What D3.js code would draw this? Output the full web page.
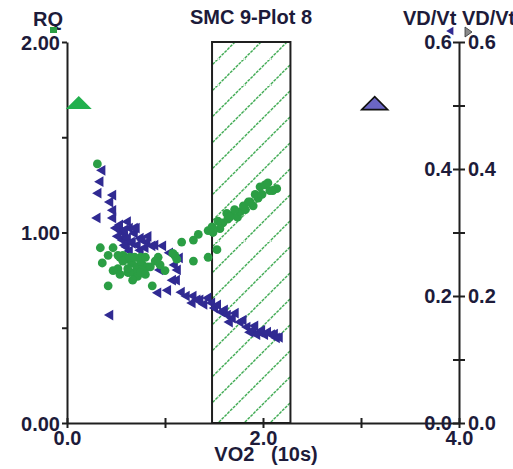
<!DOCTYPE html>
<html>
<head>
<meta charset="utf-8">
<script src="https://cdn.jsdelivr.net/npm/d3@7"></script>
<style>
    body { margin: 0; background: #fff; }
    svg { display: block; }
    text { font-family: "Liberation Sans", Arial, sans-serif; font-weight: bold; fill: #1d1b3a; }
</style>
</head>
<body>
<div id="chart"></div>
<script>
// VO2 (10s) vs RQ (green dots) and VD/Vt (blue triangles)
const rqVO2 = [0.31, 0.34, 0.47, 0.36, 0.42, 0.57, 0.61, 0.66, 0.71, 0.77, 0.82, 0.52, 0.62, 0.69, 0.72, 0.85, 0.75, 0.54, 0.93, 0.95,
    0.87, 1.10, 1.12, 1.08, 1.17, 1.29, 1.29, 1.34, 1.44, 1.48, 1.49, 1.53, 1.44, 1.59, 1.63, 1.68, 1.74, 1.77, 1.82, 1.87,
    1.90, 1.95, 1.97, 2.02, 2.07, 2.14, 1.92, 1.85, 1.71, 1.64, 0.59, 0.64, 0.77,
    0.52, 0.57, 0.64, 0.69, 0.75, 0.80, 0.62, 0.75, 0.80, 0.54, 0.47, 0.67, 0.90, 1.00, 0.42,
    1.56, 1.80, 1.99, 2.05, 2.10, 1.66, 1.54];
const rqValues = [1.36, 0.92, 0.92, 0.84, 0.72, 0.88, 0.86, 0.84, 0.82, 0.83, 0.82, 0.81, 0.79, 0.79, 0.77, 0.82, 0.87, 0.87, 0.87, 0.83,
    0.72, 0.88, 0.86, 0.89, 0.95, 0.96, 0.85, 0.99, 1.01, 1.03, 1.00, 0.91, 0.87, 1.05, 1.10, 1.09, 1.08, 1.11, 1.12, 1.16,
    1.14, 1.18, 1.24, 1.25, 1.22, 1.23, 1.20, 1.16, 1.12, 1.07, 0.87, 0.79, 0.80,
    0.88, 0.85, 0.87, 0.87, 0.85, 0.87, 0.81, 0.79, 0.78, 0.78, 0.80, 0.75, 0.85, 0.80, 0.88,
    1.02, 1.14, 1.20, 1.26, 1.22, 1.08, 1.06];

const vdVO2 = [0.36, 0.34, 0.32, 0.47, 0.44, 0.47, 0.31, 0.47, 0.62, 0.64, 0.56, 0.69, 0.75, 0.57, 0.67, 0.82, 0.90, 0.98, 0.61, 0.75,
    0.95, 0.93, 0.44, 1.10, 1.08, 1.17, 1.29, 1.36, 1.44, 1.48, 1.51, 1.58, 1.64, 1.69, 1.77, 1.84, 1.90, 1.97, 2.02, 2.14,
    2.09, 1.87, 1.28, 1.66, 1.94, 1.05, 1.12, 0.52, 0.59, 0.71,
    0.54, 0.59, 0.52, 0.62, 0.66, 0.72, 0.59, 0.77, 0.83, 0.87, 0.69, 0.80, 0.64, 0.50, 1.13, 1.15,
    1.22, 1.33, 1.40, 1.54, 1.61, 1.72, 1.80, 1.92, 1.99, 2.05, 2.12, 2.17, 1.03];
const vdValues = [0.398, 0.380, 0.362, 0.359, 0.348, 0.335, 0.323, 0.323, 0.317, 0.307, 0.301, 0.299, 0.291, 0.288, 0.283, 0.285, 0.280, 0.279, 0.277, 0.272,
    0.241, 0.205, 0.170, 0.249, 0.225, 0.206, 0.200, 0.194, 0.197, 0.189, 0.181, 0.175, 0.170, 0.165, 0.159, 0.151, 0.146, 0.143, 0.139, 0.134,
    0.139, 0.143, 0.189, 0.159, 0.139, 0.268, 0.225, 0.307, 0.293, 0.307,
    0.312, 0.304, 0.294, 0.291, 0.285, 0.280, 0.280, 0.288, 0.294, 0.279, 0.307, 0.276, 0.271, 0.307, 0.241, 0.260,
    0.200, 0.194, 0.187, 0.186, 0.178, 0.173, 0.162, 0.153, 0.146, 0.143, 0.140, 0.135, 0.209];

// shaded VO2 band
const bandRange = [1.48, 2.28];

const xTicks = [0, 1, 2, 3, 4];
const xLabels = ['0.0', '', '2.0', '', '4.0'];
const rqTicks = [0, 0.5, 1, 1.5, 2];
const rqLabels = ['0.00', '', '1.00', '', '2.00'];
const vdTicks = [0, 0.1, 0.2, 0.3, 0.4, 0.5, 0.6];
const vdLabels = ['0.0', '', '0.2', '', '0.4', '', '0.6'];

// big reference triangles: [VO2, value]
const rqMarker = [0.12, 1.68];
const vdMarker = [3.14, 0.503];

const width = 513;
const height = 469;
const fontSize = 20;

const svg = d3.select('#chart')
    .append('svg')
    .attr('width', width)
    .attr('height', height);

const x = d3.scaleLinear().domain([0, 4]).range([67, 459]);
const yL = d3.scaleLinear().domain([0, 2]).range([423, 42]);
const yR = d3.scaleLinear().domain([0, 0.6]).range([423, 42]);

const green = '#2b9e44';
const blue = '#302a92';
const axisColor = '#1f1f1f';

// hatch pattern for band
const hatch = 26;
const defs = svg.append('defs');
const pattern = defs.append('pattern')
    .attr('id', 'hatch')
    .attr('patternUnits', 'userSpaceOnUse')
    .attr('width', hatch)
    .attr('height', hatch)
    .attr('x', x(bandRange[0]) + 6)
    .attr('y', 423);
pattern.append('path')
    .attr('d', `M-2,${hatch + 2} L${hatch + 2},-2 M-2,2 L2,-2 M${hatch - 2},${hatch + 2} L${hatch + 2},${hatch - 2}`)
    .attr('stroke', '#3aa84e')
    .attr('stroke-width', 1.4)
    .attr('stroke-dasharray', '3,1');

svg.append('rect')
    .attr('x', x(bandRange[0]))
    .attr('y', yL(2))
    .attr('width', x(bandRange[1]) - x(bandRange[0]))
    .attr('height', yL(0) - yL(2))
    .attr('fill', 'url(#hatch)')
    .attr('stroke', axisColor)
    .attr('stroke-width', 2);

// axes
function styleAxis(g) {
    g.select('.domain').attr('stroke', axisColor).attr('stroke-width', 2);
    g.selectAll('.tick line').attr('stroke', axisColor).attr('stroke-width', 2);
    g.selectAll('.tick text').attr('font-size', fontSize).attr('fill', '#1d1b3a')
        .attr('font-family', '"Liberation Sans", Arial, sans-serif').attr('font-weight', 'bold');
}

const xAxis = svg.append('g')
    .attr('transform', `translate(0,${yL(0)})`)
    .call(d3.axisBottom(x).tickValues(xTicks).tickFormat((d, i) => xLabels[i]).tickSize(5).tickSizeOuter(0))
    .call(styleAxis);
xAxis.selectAll('.tick line').attr('y1', -5).attr('y2', 5);
xAxis.selectAll('.tick text').attr('y', 8).attr('dy', '0.71em');

const leftAxis = svg.append('g')
    .attr('transform', `translate(${x(0)},0)`)
    .call(d3.axisLeft(yL).tickValues(rqTicks).tickFormat((d, i) => rqLabels[i]).tickSize(5).tickPadding(2).tickSizeOuter(0))
    .call(styleAxis);
leftAxis.selectAll('.tick text').attr('dy', '0.36em');

const rightAxis = svg.append('g')
    .attr('transform', `translate(${x(4)},0)`)
    .call(d3.axisRight(yR).tickValues(vdTicks).tickFormat((d, i) => vdLabels[i]).tickSize(6).tickPadding(3).tickSizeOuter(0))
    .call(styleAxis);
rightAxis.selectAll('.tick line').attr('x1', -6).attr('x2', 6);

// duplicate labels on the inner side of the right axis
svg.append('g')
    .attr('transform', `translate(${x(4)},0)`)
    .call(d3.axisLeft(yR).tickValues(vdTicks).tickFormat((d, i) => vdLabels[i]).tickSize(0).tickPadding(7))
    .call(styleAxis)
    .call(g => g.select('.domain').remove());

// axis titles
svg.append('text')
    .attr('x', 48).attr('y', 26)
    .attr('text-anchor', 'middle')
    .attr('font-size', fontSize)
    .text('RQ');

svg.append('text')
    .attr('x', 403).attr('y', 25)
    .attr('font-size', fontSize)
    .text('VD/Vt VD/Vt');

svg.append('text')
    .attr('x', 251).attr('y', 24)
    .attr('text-anchor', 'middle')
    .attr('font-size', fontSize)
    .text('SMC 9-Plot 8');

svg.append('text')
    .attr('x', 266).attr('y', 461)
    .attr('text-anchor', 'middle')
    .attr('font-size', fontSize)
    .style('white-space', 'pre')
    .text('VO2   (10s)');

// small legend glyphs near axis titles
svg.append('rect')
    .attr('x', 50).attr('y', 27).attr('width', 7).attr('height', 6)
    .attr('fill', green);
svg.append('path')
    .attr('transform', 'translate(451,31) rotate(-90)')
    .attr('d', d3.symbol(d3.symbolTriangle).size(30)())
    .attr('fill', blue);
svg.append('path')
    .attr('d', 'M465,27 L472,32 L465,37 Z')
    .attr('fill', '#8a8a8a')
    .attr('stroke', '#333')
    .attr('stroke-width', 0.8);

// reference triangles
function bigTriangle(cx, cy) {
    return `M${cx - 13},${cy + 6} L${cx},${cy - 7} L${cx + 13},${cy + 6} Z`;
}
svg.append('path')
    .attr('d', bigTriangle(x(rqMarker[0]), yL(rqMarker[1])))
    .attr('fill', '#22b04e');
svg.append('path')
    .attr('d', bigTriangle(x(vdMarker[0]), yR(vdMarker[1])))
    .attr('fill', '#6b66c4')
    .attr('stroke', '#111')
    .attr('stroke-width', 1.6);

// data marks
const rqData = rqVO2.map((v, i) => ({ v, y: rqValues[i] }));
const vdData = vdVO2.map((v, i) => ({ v, y: vdValues[i] }));

svg.append('g')
    .selectAll('path')
    .data(vdData)
    .enter()
    .append('path')
    .attr('transform', d => `translate(${x(d.v)},${yR(d.y)}) rotate(-90)`)
    .attr('d', d3.symbol(d3.symbolTriangle).size(50)())
    .attr('fill', blue);

svg.append('g')
    .selectAll('circle')
    .data(rqData)
    .enter()
    .append('circle')
    .attr('cx', d => x(d.v))
    .attr('cy', d => yL(d.y))
    .attr('r', 4.4)
    .attr('fill', green);
</script>
</body>
</html>
